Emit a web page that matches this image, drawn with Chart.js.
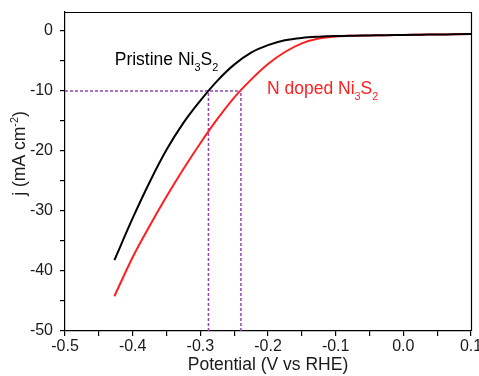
<!DOCTYPE html>
<html>
<head>
<meta charset="utf-8">
<script src="https://cdn.jsdelivr.net/npm/chart.js@4/dist/chart.umd.min.js"></script>
<style>
  html, body { margin: 0; padding: 0; background: #fff; }
  #wrap { width: 479px; height: 376px; }
</style>
</head>
<body>
<div id="wrap"><canvas id="lsv" width="479" height="376"></canvas></div>
<script>
// Polarization curves (HER), potential in V vs RHE, current density in mA cm-2
const potential = [-0.427, -0.4, -0.375, -0.35, -0.325, -0.3, -0.275, -0.25, -0.225, -0.2, -0.175,
                   -0.15, -0.125, -0.1, -0.075, -0.05, -0.025, 0, 0.025, 0.05, 0.075, 0.1];
const pristineJ = [-38.2, -31.2, -25.2, -19.8, -15.3, -11.6, -8.3, -5.6, -3.6, -2.35, -1.55,
                   -1.15, -0.95, -0.83, -0.77, -0.73, -0.69, -0.66, -0.62, -0.58, -0.54, -0.5];
const dopedJ    = [-44.2, -37.7, -32.5, -27.6, -23.0, -18.7, -14.7, -11.1, -8.1, -5.5, -3.5,
                   -2.05, -1.25, -0.9, -0.78, -0.73, -0.69, -0.66, -0.62, -0.58, -0.54, -0.5];

// potentials needed to reach -10 mA cm-2 (pristine, N doped)
const eta10 = [-0.288, -0.240];
const jRef = -10;

const xTicks  = [-0.5, -0.45, -0.4, -0.35, -0.3, -0.25, -0.2, -0.15, -0.1, -0.05, 0, 0.05, 0.1];
const xLabels = ['-0.5', '', '-0.4', '', '-0.3', '', '-0.2', '', '-0.1', '', '0.0', '', '0.1'];
const yTicks  = [-50, -45, -40, -35, -30, -25, -20, -15, -10, -5, 0];
const yLabels = ['-50', '', '-40', '', '-30', '', '-20', '', '-10', '', '0'];

const FONT = "'Liberation Sans', Arial, Helvetica, sans-serif";
const RED = '#ff1f1f';
const GUIDE = '#9444b4';

const toPoints = (xs, ys) => xs.map((x, i) => ({ x: x, y: ys[i] }));

const guideStyle = {
  type: 'line', borderColor: GUIDE, borderWidth: 1.5, borderDash: [3, 2],
  pointRadius: 0, fill: false, tension: 0
};

// draws a run of text pieces, some of them lowered (subscript) or raised (superscript)
function drawRich(ctx, parts, x, y, size, color) {
  let cx = x;
  ctx.fillStyle = color;
  ctx.textBaseline = 'alphabetic';
  ctx.textAlign = 'left';
  parts.forEach(p => {
    const s = (p.sub || p.sup) ? size * 0.62 : size;
    ctx.font = s + 'px ' + FONT;
    const dy = p.sub ? size * 0.36 : (p.sup ? -size * 0.40 : 0);
    ctx.fillText(p.t, cx, y + dy);
    cx += ctx.measureText(p.t).width;
  });
  return cx - x;
}
function richWidth(ctx, parts, size) {
  let w = 0;
  parts.forEach(p => {
    const s = (p.sub || p.sup) ? size * 0.62 : size;
    ctx.font = s + 'px ' + FONT;
    w += ctx.measureText(p.t).width;
  });
  return w;
}

// fixed axis box sizes, no extra room for overhanging tick labels
function fixBox(size) {
  return s => {
    if (s.isHorizontal()) s.height = size; else s.width = size;
    s.paddingLeft = 0; s.paddingRight = 0; s.paddingTop = 0; s.paddingBottom = 0;
  };
}

const annotations = {
  id: 'annotations',
  afterDraw(chart) {
    const { ctx, chartArea: a, scales } = chart;
    ctx.save();
    // frame: top and right edges
    ctx.strokeStyle = '#000';
    ctx.lineWidth = 1.2;
    ctx.beginPath();
    ctx.moveTo(a.left, a.top + 0.5);
    ctx.lineTo(a.right + 0.5, a.top + 0.5);
    ctx.lineTo(a.right + 0.5, a.bottom);
    ctx.stroke();

    // curve labels
    const px = scales.x, py = scales.y;
    drawRich(ctx, [{ t: 'Pristine Ni' }, { t: '3', sub: true }, { t: 'S' }, { t: '2', sub: true }],
      px.getPixelForValue(-0.4265), py.getPixelForValue(-5.67), 17.5, '#000');
    drawRich(ctx, [{ t: 'N doped Ni' }, { t: '3', sub: true }, { t: 'S' }, { t: '2', sub: true }],
      px.getPixelForValue(-0.2015), py.getPixelForValue(-10.5), 17.5, RED);

    // y axis title
    const yTitle = [{ t: 'j (mA cm' }, { t: '-2', sup: true }, { t: ')' }];
    const w = richWidth(ctx, yTitle, 17.5);
    ctx.translate(25, 153.5);
    ctx.rotate(-Math.PI / 2);
    drawRich(ctx, yTitle, -w / 2, 0, 17.5, '#1a1a1a');
    ctx.restore();
  }
};

new Chart(document.getElementById('lsv'), {
  type: 'scatter',
  data: {
    datasets: [
      { label: 'Pristine Ni3S2', type: 'line', data: toPoints(potential, pristineJ),
        borderColor: '#000', borderWidth: 2, pointRadius: 0, fill: false,
        cubicInterpolationMode: 'monotone' },
      { label: 'N doped Ni3S2', type: 'line', data: toPoints(potential, dopedJ),
        borderColor: RED, borderWidth: 2, pointRadius: 0, fill: false,
        cubicInterpolationMode: 'monotone' },
      Object.assign({ label: 'j = -10', data: [{ x: xTicks[0], y: jRef }, { x: eta10[1], y: jRef }] }, guideStyle),
      Object.assign({ label: 'pristine eta10', data: [{ x: eta10[0], y: yTicks[0] }, { x: eta10[0], y: jRef }] }, guideStyle),
      Object.assign({ label: 'doped eta10', data: [{ x: eta10[1], y: yTicks[0] }, { x: eta10[1], y: jRef }] }, guideStyle)
    ]
  },
  options: {
    responsive: false,
    devicePixelRatio: 1,
    animation: false,
    events: [],
    layout: { autoPadding: false, padding: { left: 0, top: 12, right: 8, bottom: 0 } },
    plugins: { legend: { display: false }, tooltip: { enabled: false } },
    scales: {
      x: {
        type: 'linear', position: 'bottom',
        min: xTicks[0], max: xTicks[xTicks.length - 1],
        afterBuildTicks: s => { s.ticks = xTicks.map(v => ({ value: v })); },
        afterFit: fixBox(45),
        grid: { drawOnChartArea: false, drawTicks: true, tickLength: 5, color: '#000', lineWidth: 1.2 },
        border: { display: true, color: '#000', width: 1.2 },
        ticks: {
          autoSkip: false, maxRotation: 0, padding: 1, color: '#1a1a1a',
          font: { family: FONT, size: 16 },
          callback: (v, i) => xLabels[i]
        },
        title: {
          display: true, text: 'Potential (V vs RHE)', color: '#1a1a1a',
          font: { family: FONT, size: 17.5 }, padding: { top: 0, bottom: 0 }
        }
      },
      y: {
        type: 'linear', position: 'left',
        min: yTicks[0], max: 3.17,
        afterBuildTicks: s => { s.ticks = yTicks.map(v => ({ value: v })); },
        afterFit: fixBox(65),
        grid: { drawOnChartArea: false, drawTicks: true, tickLength: 5, color: '#000', lineWidth: 1.2 },
        border: { display: true, color: '#000', width: 1.2 },
        ticks: {
          autoSkip: false, padding: 7, color: '#1a1a1a',
          font: { family: FONT, size: 16 },
          callback: (v, i) => yLabels[i]
        }
      }
    }
  },
  plugins: [annotations]
});
</script>
</body>
</html>
